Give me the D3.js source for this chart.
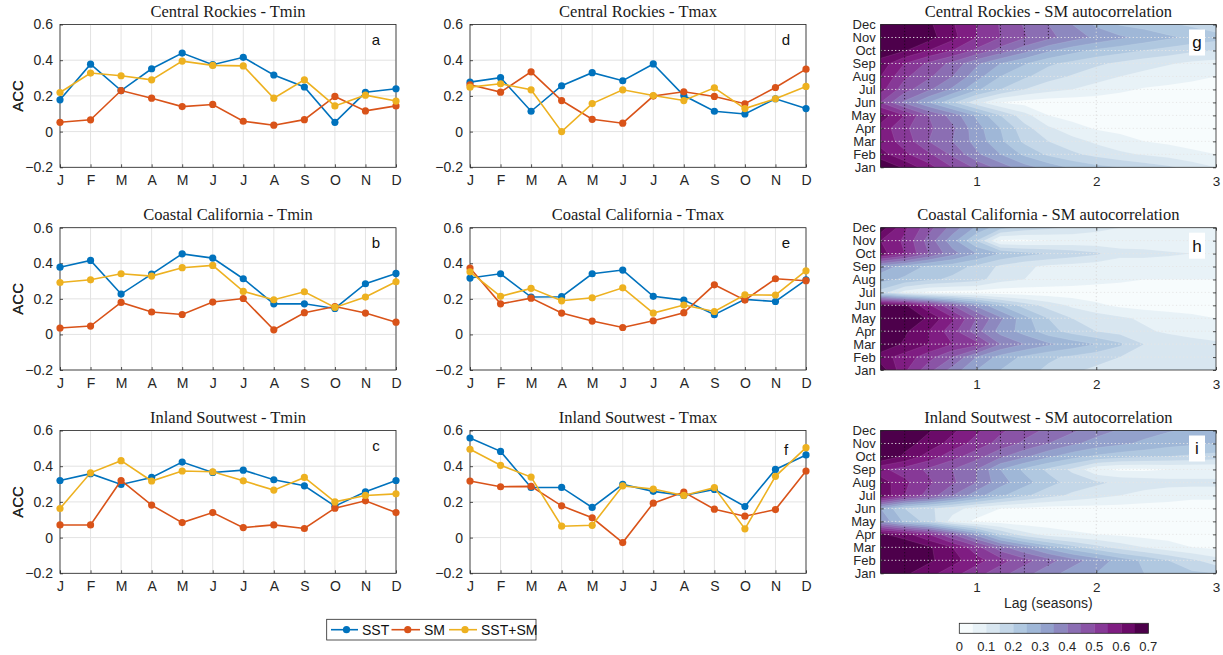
<!DOCTYPE html>
<html>
<head>
<meta charset="utf-8">
<script src="https://cdn.jsdelivr.net/npm/d3@7"></script>
<style>
  body { margin: 0; background: #fff; }
  svg { display: block; }
</style>
</head>
<body>
<svg id="chart" width="1223" height="655"></svg>
<script>
// ---- axis labels ----
const monthInitials = ["J","F","M","A","M","J","J","A","S","O","N","D"];
const monthNames = ["Jan","Feb","Mar","Apr","May","Jun","Jul","Aug","Sep","Oct","Nov","Dec"];
const accTicks = [-0.2, 0, 0.2, 0.4, 0.6];
const lagTicks = [1, 2, 3];
const colorbarTicks = [0, 0.1, 0.2, 0.3, 0.4, 0.5, 0.6, 0.7];
const seriesNames = ["SST", "SM", "SST+SM"];

// ---- ACC by target month (Jan..Dec) ----
const crTminSST  = [0.178,0.378,0.230,0.352,0.440,0.375,0.416,0.317,0.250,0.052,0.220,0.240];
const crTminSM   = [0.052,0.066,0.230,0.187,0.140,0.152,0.058,0.036,0.067,0.197,0.116,0.144];
const crTminBoth = [0.219,0.328,0.313,0.290,0.395,0.371,0.368,0.187,0.290,0.144,0.204,0.171];

const crTmaxSST  = [0.277,0.302,0.114,0.257,0.330,0.285,0.379,0.202,0.114,0.099,0.184,0.129];
const crTmaxSM   = [0.262,0.221,0.335,0.174,0.069,0.047,0.199,0.223,0.197,0.156,0.247,0.350];
const crTmaxBoth = [0.249,0.268,0.234,0.000,0.157,0.234,0.202,0.174,0.245,0.129,0.184,0.253];

const ccTminSST  = [0.378,0.416,0.227,0.339,0.453,0.429,0.313,0.172,0.172,0.146,0.285,0.343];
const ccTminSM   = [0.036,0.047,0.180,0.126,0.112,0.182,0.202,0.026,0.122,0.157,0.120,0.069];
const ccTminBoth = [0.292,0.307,0.341,0.328,0.375,0.388,0.242,0.195,0.240,0.152,0.210,0.296];

const ccTmaxSST  = [0.317,0.341,0.210,0.212,0.341,0.362,0.214,0.193,0.111,0.197,0.185,0.307];
const ccTmaxSM   = [0.373,0.172,0.204,0.120,0.075,0.039,0.077,0.122,0.279,0.193,0.313,0.302];
const ccTmaxBoth = [0.352,0.214,0.259,0.189,0.206,0.262,0.120,0.165,0.129,0.223,0.221,0.358];

const isTminSST  = [0.320,0.358,0.298,0.337,0.423,0.365,0.378,0.324,0.290,0.176,0.257,0.320];
const isTminSM   = [0.071,0.071,0.320,0.182,0.084,0.140,0.056,0.071,0.051,0.165,0.206,0.140];
const isTminBoth = [0.163,0.363,0.431,0.317,0.373,0.369,0.318,0.266,0.337,0.200,0.236,0.245];

const isTmaxSST  = [0.558,0.483,0.281,0.281,0.169,0.298,0.259,0.236,0.270,0.174,0.382,0.463];
const isTmaxSM   = [0.317,0.285,0.287,0.178,0.111,-0.028,0.193,0.255,0.159,0.120,0.157,0.373];
const isTmaxBoth = [0.495,0.405,0.339,0.064,0.069,0.290,0.272,0.236,0.280,0.049,0.343,0.504];

// ---- soil moisture autocorrelation: rows Jan..Dec, columns = lag (seasons) ----
const lagValues = [0.2,0.4,0.6,0.8,1.0,1.2,1.4,1.6,1.8,2.0,2.2,2.4,2.6,2.8,3.0];

const crAuto = [
  [0.70,0.64,0.57,0.50,0.44,0.38,0.32,0.28,0.24,0.215,0.20,0.18,0.16,0.13,0.10],
  [0.62,0.56,0.51,0.44,0.36,0.30,0.24,0.19,0.16,0.135,0.11,0.095,0.08,0.06,0.05],
  [0.58,0.53,0.45,0.40,0.33,0.26,0.19,0.15,0.12,0.09,0.07,0.05,0.04,0.035,0.03],
  [0.58,0.51,0.46,0.41,0.32,0.25,0.17,0.11,0.07,0.045,0.035,0.03,0.03,0.03,0.03],
  [0.63,0.55,0.45,0.38,0.29,0.20,0.12,0.05,0.03,0.02,0.02,0.02,0.02,0.02,0.02],
  [0.50,0.39,0.30,0.21,0.12,0.05,0.03,0.02,0.02,0.02,0.02,0.02,0.02,0.02,0.02],
  [0.57,0.47,0.41,0.34,0.26,0.20,0.15,0.12,0.10,0.08,0.06,0.045,0.04,0.035,0.03],
  [0.60,0.51,0.46,0.40,0.32,0.25,0.21,0.17,0.145,0.12,0.10,0.085,0.07,0.06,0.05],
  [0.63,0.55,0.49,0.435,0.36,0.30,0.255,0.21,0.185,0.16,0.14,0.12,0.105,0.09,0.08],
  [0.68,0.655,0.60,0.55,0.49,0.43,0.37,0.31,0.27,0.24,0.22,0.20,0.18,0.16,0.15],
  [0.73,0.71,0.67,0.615,0.55,0.50,0.455,0.415,0.375,0.34,0.31,0.285,0.26,0.24,0.22],
  [0.72,0.70,0.66,0.605,0.55,0.495,0.445,0.40,0.35,0.29,0.245,0.23,0.21,0.19,0.17]
];

const ccAuto = [
  [0.68,0.56,0.47,0.38,0.30,0.25,0.22,0.19,0.16,0.14,0.13,0.13,0.12,0.12,0.12],
  [0.62,0.58,0.52,0.45,0.35,0.28,0.24,0.21,0.19,0.17,0.15,0.14,0.13,0.12,0.11],
  [0.70,0.64,0.60,0.55,0.52,0.40,0.35,0.31,0.28,0.25,0.21,0.15,0.14,0.12,0.11],
  [0.72,0.66,0.60,0.52,0.42,0.33,0.28,0.22,0.18,0.15,0.13,0.11,0.09,0.08,0.07],
  [0.74,0.71,0.64,0.56,0.45,0.36,0.27,0.20,0.15,0.13,0.11,0.09,0.07,0.06,0.05],
  [0.68,0.66,0.56,0.45,0.34,0.25,0.18,0.13,0.09,0.06,0.04,0.03,0.03,0.03,0.03],
  [0.18,0.08,0.04,0.03,0.03,0.02,0.02,0.02,0.02,0.02,0.02,0.02,0.02,0.02,0.02],
  [0.27,0.24,0.21,0.19,0.17,0.12,0.10,0.09,0.08,0.07,0.06,0.05,0.05,0.05,0.05],
  [0.33,0.28,0.24,0.22,0.19,0.14,0.11,0.09,0.08,0.07,0.06,0.06,0.06,0.06,0.05],
  [0.62,0.55,0.45,0.37,0.30,0.25,0.22,0.20,0.18,0.16,0.12,0.12,0.11,0.10,0.10],
  [0.60,0.54,0.43,0.32,0.20,0.04,0.04,0.05,0.06,0.06,0.07,0.06,0.05,0.05,0.05],
  [0.68,0.56,0.47,0.38,0.29,0.22,0.18,0.16,0.14,0.12,0.10,0.09,0.07,0.06,0.05]
];

const isAuto = [
  [0.70,0.66,0.62,0.57,0.52,0.47,0.42,0.37,0.33,0.30,0.27,0.25,0.23,0.21,0.20],
  [0.72,0.70,0.66,0.62,0.57,0.52,0.47,0.42,0.37,0.33,0.28,0.24,0.20,0.16,0.12],
  [0.72,0.70,0.66,0.60,0.52,0.42,0.35,0.28,0.22,0.17,0.13,0.10,0.07,0.05,0.04],
  [0.66,0.62,0.55,0.45,0.33,0.20,0.12,0.08,0.06,0.05,0.04,0.03,0.03,0.03,0.03],
  [0.34,0.24,0.18,0.08,0.04,0.03,0.02,0.02,0.02,0.02,0.02,0.02,0.02,0.02,0.02],
  [0.30,0.20,0.16,0.12,0.08,0.05,0.04,0.03,0.03,0.03,0.03,0.03,0.03,0.03,0.03],
  [0.64,0.55,0.48,0.40,0.32,0.26,0.21,0.17,0.14,0.12,0.10,0.08,0.07,0.06,0.06],
  [0.63,0.56,0.51,0.46,0.40,0.32,0.27,0.22,0.18,0.16,0.14,0.13,0.12,0.12,0.12],
  [0.56,0.53,0.49,0.45,0.40,0.30,0.24,0.19,0.14,0.06,0.04,0.04,0.05,0.05,0.05],
  [0.70,0.64,0.58,0.52,0.47,0.41,0.36,0.31,0.27,0.24,0.22,0.21,0.20,0.19,0.18],
  [0.72,0.67,0.63,0.58,0.53,0.48,0.44,0.40,0.36,0.33,0.31,0.29,0.27,0.26,0.25],
  [0.72,0.69,0.655,0.61,0.56,0.51,0.47,0.44,0.41,0.37,0.345,0.32,0.305,0.29,0.28]
];

// ---- styling ----
const seriesColors = ["#0072BD", "#D95319", "#EDB120"];
const axisColor = "#262626";
const sansFont = "'Liberation Sans', Arial, sans-serif";
const serifFont = "'Liberation Serif', 'DejaVu Serif', serif";

const svg = d3.select("#chart");
svg.append("rect").attr("width", 1223).attr("height", 655).attr("fill", "#fff");

const rowTop = [24.5, 227.7, 430.5];
const rowBottom = [167.3, 370, 573.3];
const lineCols = [[60, 396], [470, 806]];
const mapCol = [880.7, 1216];

// contour levels: 0.05 .. 0.65, 14 colour bands over 0..0.7
const bandCount = 14;
const bandStep = 0.05;
const contourLevels = d3.range(1, bandCount).map(k => +(k * bandStep).toFixed(2));
const bandColor = k => d3.interpolateBuPu(k / (bandCount - 1));

function addTitle(g, cx, yTop, text) {
  g.append("text").attr("x", cx).attr("y", yTop - 8).attr("text-anchor", "middle")
    .style("font-family", serifFont).style("font-size", "16.5px").style("font-weight", "400")
    .attr("fill", "#1a1a1a").text(text);
}

// ---- line panels ----
function linePanel(cfg) {
  const [x0, x1] = cfg.xr, y0 = cfg.y0, y1 = cfg.y1;
  const x = d3.scaleLinear().domain([0, 11]).range([x0, x1]);
  const y = d3.scaleLinear().domain([-0.2, 0.6]).range([y1, y0]);
  const g = svg.append("g");

  // grid
  g.append("g").selectAll("line").data(d3.range(12)).join("line")
    .attr("x1", d => x(d)).attr("x2", d => x(d)).attr("y1", y0).attr("y2", y1)
    .attr("stroke", "#e3e3e3").attr("stroke-width", 1);
  g.append("g").selectAll("line").data(accTicks).join("line")
    .attr("x1", x0).attr("x2", x1).attr("y1", d => y(d)).attr("y2", d => y(d))
    .attr("stroke", "#e3e3e3").attr("stroke-width", 1);

  // axes with inward ticks
  const bottom = d3.axisBottom(x).tickValues(d3.range(12)).tickFormat(i => monthInitials[i])
    .tickSizeInner(-3).tickSizeOuter(0).tickPadding(8);
  const left = d3.axisLeft(y).tickValues(accTicks).tickFormat(d => d === 0 ? "0" : d3.format(".1f")(d))
    .tickSizeInner(-3).tickSizeOuter(0).tickPadding(7);
  const gb = g.append("g").attr("transform", `translate(0,${y1})`).call(bottom);
  const gl = g.append("g").attr("transform", `translate(${x0},0)`).call(left);
  [gb, gl].forEach(a => {
    a.select(".domain").remove();
    a.selectAll("line").attr("stroke", axisColor).attr("stroke-width", 0.8);
    a.selectAll("text").attr("fill", axisColor).style("font-family", sansFont).style("font-size", "14px");
  });
  g.append("rect").attr("x", x0).attr("y", y0).attr("width", x1 - x0).attr("height", y1 - y0)
    .attr("fill", "none").attr("stroke", axisColor).attr("stroke-width", 0.8);

  // y label
  g.append("text").attr("transform", `translate(18,${(y0 + y1) / 2}) rotate(-90)`)
    .attr("text-anchor", "middle").attr("dy", "0.35em")
    .style("font-family", sansFont).style("font-size", "15px").attr("fill", axisColor).text("ACC");

  addTitle(g, (x0 + x1) / 2, y0, cfg.title);

  // series
  const line = d3.line().x((d, i) => x(i)).y(d => y(d));
  cfg.series.forEach((vals, s) => {
    g.append("path").datum(vals).attr("d", line).attr("fill", "none")
      .attr("stroke", seriesColors[s]).attr("stroke-width", 1.6);
    g.append("g").selectAll("circle").data(vals).join("circle")
      .attr("cx", (d, i) => x(i)).attr("cy", d => y(d)).attr("r", 3.6)
      .attr("fill", seriesColors[s]);
  });

  // panel letter
  g.append("text").attr("x", x1 - 20).attr("y", y0 + cfg.letterDy).attr("text-anchor", "middle")
    .style("font-family", sansFont).style("font-size", "15px").attr("fill", "#111").text(cfg.letter);
}

// ---- autocorrelation contour panels ----
function contourPanel(cfg, idx) {
  const [x0, x1] = mapCol, y0 = cfg.y0, y1 = cfg.y1;
  const nLag = lagValues.length, nMon = monthNames.length;
  const x = d3.scaleLinear().domain([lagValues[0], lagValues[nLag - 1]]).range([x0, x1]);
  const y = d3.scaleLinear().domain([0, nMon - 1]).range([y1, y0]);
  // marching-squares grid coords: sample i sits at i + 0.5
  const gx = d3.scaleLinear().domain([0.5, nLag - 0.5]).range([lagValues[0], lagValues[nLag - 1]]);
  const gy = d3.scaleLinear().domain([0.5, nMon - 0.5]).range([0, nMon - 1]);
  const proj = d3.geoTransform({
    point(px, py) { this.stream.point(x(gx(px)), y(gy(py))); }
  });
  const path = d3.geoPath(proj);
  const flat = cfg.grid.flat();

  const g = svg.append("g");
  const clipId = "clip" + idx;
  g.append("clipPath").attr("id", clipId).append("rect")
    .attr("x", x0).attr("y", y0).attr("width", x1 - x0).attr("height", y1 - y0);

  const body = g.append("g").attr("clip-path", `url(#${clipId})`);
  body.append("rect").attr("x", x0).attr("y", y0).attr("width", x1 - x0).attr("height", y1 - y0)
    .attr("fill", bandColor(0));
  const bands = d3.contours().size([nLag, nMon]).thresholds(contourLevels)(flat);
  body.selectAll("path.band").data(bands).join("path").attr("class", "band")
    .attr("d", path)
    .attr("fill", (d, i) => bandColor(i + 1))
    .attr("stroke", "rgba(255,255,255,0.18)").attr("stroke-width", 0.5);

  // dark dotted guides, shown only where autocorrelation is strong
  const strongId = "strong" + idx;
  const strong = d3.contours().size([nLag, nMon]).thresholds([0.4])(flat)[0];
  g.append("clipPath").attr("id", strongId).append("path").attr("d", path(strong));
  const guideLags = d3.range(2, 15).map(k => k * 0.2);
  body.append("g").attr("clip-path", `url(#${strongId})`)
    .selectAll("line").data(guideLags).join("line")
    .attr("x1", d => x(d)).attr("x2", d => x(d)).attr("y1", y0).attr("y2", y1)
    .attr("stroke", "#1a0a1a").attr("stroke-width", 1).attr("stroke-dasharray", "1.2,2")
    .attr("opacity", 0.85);

  // light dotted grid
  body.append("g").selectAll("line").data(d3.range(1, nMon - 1)).join("line")
    .attr("x1", x0).attr("x2", x1).attr("y1", d => y(d)).attr("y2", d => y(d))
    .attr("stroke", "#e6e6e6").attr("stroke-width", 1).attr("stroke-dasharray", "1.2,2.4");
  body.append("g").selectAll("line").data([1, 2]).join("line")
    .attr("x1", d => x(d)).attr("x2", d => x(d)).attr("y1", y0).attr("y2", y1)
    .attr("stroke", "#d8d8d8").attr("stroke-width", 1).attr("stroke-dasharray", "1.2,2.4");

  // axes
  const bottom = d3.axisBottom(x).tickValues(lagTicks).tickFormat(d3.format("d"))
    .tickSizeInner(-3).tickSizeOuter(0).tickPadding(9);
  const left = d3.axisLeft(y).tickValues(d3.range(nMon)).tickFormat(i => monthNames[i])
    .tickSizeInner(-3).tickSizeOuter(0).tickPadding(5);
  const right = d3.axisRight(y).tickValues(d3.range(nMon)).tickFormat("")
    .tickSizeInner(-3).tickSizeOuter(0);
  const top = d3.axisTop(x).tickValues(lagTicks).tickFormat("").tickSizeInner(-3).tickSizeOuter(0);
  const gb = g.append("g").attr("transform", `translate(0,${y1})`).call(bottom);
  const gl = g.append("g").attr("transform", `translate(${x0},0)`).call(left);
  const gr = g.append("g").attr("transform", `translate(${x1},0)`).call(right);
  const gt = g.append("g").attr("transform", `translate(0,${y0})`).call(top);
  [gb, gl, gr, gt].forEach(a => {
    a.select(".domain").remove();
    a.selectAll("line").attr("stroke", axisColor).attr("stroke-width", 0.8);
    a.selectAll("text").attr("fill", axisColor).style("font-family", sansFont);
  });
  gb.selectAll("text").style("font-size", "13.5px");
  gl.selectAll("text").style("font-size", "13px");
  g.append("rect").attr("x", x0).attr("y", y0).attr("width", x1 - x0).attr("height", y1 - y0)
    .attr("fill", "none").attr("stroke", axisColor).attr("stroke-width", 0.8);

  addTitle(g, (x0 + x1) / 2, y0, cfg.title);

  // panel letter on white patch
  const lx = x1 - 19, ly = y0 + 18;
  g.append("rect").attr("x", lx - 8).attr("y", ly - 13).attr("width", 16).attr("height", 26).attr("fill", "#fff");
  g.append("text").attr("x", lx).attr("y", ly).attr("dy", "0.35em").attr("text-anchor", "middle")
    .style("font-family", sansFont).style("font-size", "17px").attr("fill", "#111").text(cfg.letter);

  if (cfg.showLagLabel) {
    g.append("text").attr("x", (x0 + x1) / 2).attr("y", y1 + 35).attr("text-anchor", "middle")
      .style("font-family", sansFont).style("font-size", "14px").attr("fill", axisColor).text("Lag (seasons)");
  }
}

const linePanels = [
  { title: "Central Rockies - Tmin", letter: "a", col: 0, row: 0, series: [crTminSST, crTminSM, crTminBoth] },
  { title: "Coastal California - Tmin", letter: "b", col: 0, row: 1, series: [ccTminSST, ccTminSM, ccTminBoth] },
  { title: "Inland Soutwest - Tmin", letter: "c", col: 0, row: 2, series: [isTminSST, isTminSM, isTminBoth] },
  { title: "Central Rockies - Tmax", letter: "d", col: 1, row: 0, series: [crTmaxSST, crTmaxSM, crTmaxBoth] },
  { title: "Coastal California - Tmax", letter: "e", col: 1, row: 1, series: [ccTmaxSST, ccTmaxSM, ccTmaxBoth] },
  { title: "Inland Soutwest - Tmax", letter: "f", col: 1, row: 2, series: [isTmaxSST, isTmaxSM, isTmaxBoth] }
];
linePanels.forEach(p => linePanel({
  ...p, xr: lineCols[p.col], y0: rowTop[p.row], y1: rowBottom[p.row],
  letterDy: p.letter === "f" ? 24 : 20
}));

const mapPanels = [
  { title: "Central Rockies - SM autocorrelation", letter: "g", grid: crAuto },
  { title: "Coastal California - SM autocorrelation", letter: "h", grid: ccAuto },
  { title: "Inland Soutwest - SM autocorrelation", letter: "i", grid: isAuto, showLagLabel: true }
];
mapPanels.forEach((p, i) => contourPanel({ ...p, y0: rowTop[i], y1: rowBottom[i] }, i));

// ---- legend ----
const legend = svg.append("g");
legend.append("rect").attr("x", 326.7).attr("y", 619.3).attr("width", 209.3).attr("height", 20.7)
  .attr("fill", "#fff").attr("stroke", axisColor).attr("stroke-width", 0.8);
const legendX = d3.scaleOrdinal().domain(seriesNames).range([331, 391.5, 449]);
const legendW = d3.scaleOrdinal().domain(seriesNames).range([27, 28.5, 28]);
seriesNames.forEach((name, s) => {
  const lx = legendX(name), w = legendW(name), cy = 629.7;
  legend.append("line").attr("x1", lx).attr("x2", lx + w).attr("y1", cy).attr("y2", cy)
    .attr("stroke", seriesColors[s]).attr("stroke-width", 1.6);
  legend.append("circle").attr("cx", lx + w / 2 + 2).attr("cy", cy).attr("r", 3.6).attr("fill", seriesColors[s]);
  legend.append("text").attr("x", lx + w + 4).attr("y", cy).attr("dy", "0.36em")
    .style("font-family", sansFont).style("font-size", "14px").attr("fill", "#111").text(name);
});

// ---- colorbar ----
const cb = svg.append("g");
const cbX = d3.scaleLinear().domain([0, 0.7]).range([959.3, 1148.3]);
cb.selectAll("rect.cbin").data(d3.range(bandCount)).join("rect").attr("class", "cbin")
  .attr("x", k => cbX(k * bandStep)).attr("y", 623.3)
  .attr("width", k => cbX((k + 1) * bandStep) - cbX(k * bandStep) + 0.3).attr("height", 10)
  .attr("fill", k => bandColor(k));
cb.append("rect").attr("x", cbX(0)).attr("y", 623.3).attr("width", cbX(0.7) - cbX(0)).attr("height", 10)
  .attr("fill", "none").attr("stroke", axisColor).attr("stroke-width", 0.8);
cb.selectAll("text").data(colorbarTicks).join("text")
  .attr("x", d => cbX(d)).attr("y", 651).attr("text-anchor", "middle")
  .style("font-family", sansFont).style("font-size", "13px").attr("fill", axisColor)
  .text(d => d === 0 ? "0" : d3.format(".1f")(d));
</script>
</body>
</html>
